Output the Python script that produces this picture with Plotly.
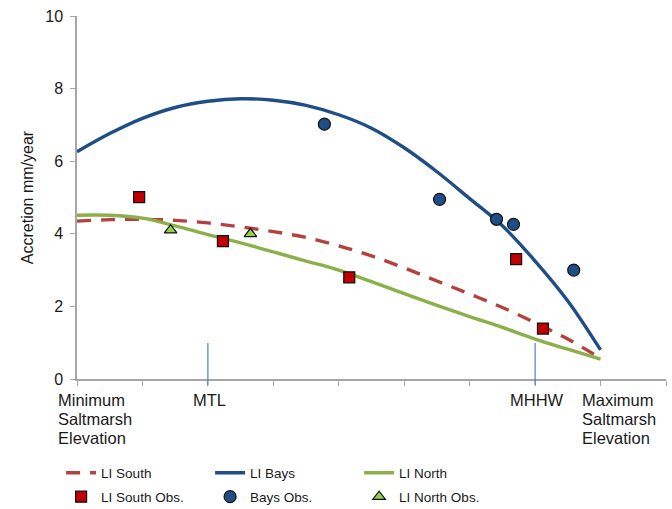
import plotly.graph_objects as go

# ---- data ----
curve_x = [0, 0.5, 1, 1.5, 2, 2.5, 3, 3.5, 4, 4.5, 5, 5.5, 6, 6.5, 7, 7.5, 8]
li_south = [4.35, 4.39, 4.40, 4.37, 4.30, 4.19, 4.06, 3.90, 3.67, 3.39, 3.06, 2.70, 2.34, 1.97, 1.55, 1.10, 0.57]
li_bays = [6.26, 6.76, 7.18, 7.48, 7.65, 7.72, 7.68, 7.54, 7.28, 6.91, 6.37, 5.71, 4.97, 4.22, 3.25, 2.15, 0.80]
li_north = [4.51, 4.51, 4.43, 4.22, 3.98, 3.75, 3.50, 3.25, 3.00, 2.68, 2.35, 2.03, 1.72, 1.42, 1.10, 0.82, 0.55]

south_obs_x = [0.95, 2.23, 4.16, 6.71, 7.12]
south_obs_y = [5.01, 3.80, 2.80, 3.30, 1.39]
bays_obs_x = [3.78, 5.54, 6.41, 6.67, 7.59]
bays_obs_y = [7.02, 4.95, 4.40, 4.26, 3.00]
north_obs_x = [1.43, 2.65]
north_obs_y = [4.10, 4.00]

ref_labels = ["MTL", "MHHW"]
ref_x = [2.0, 7.0]
end_labels = ["Minimum<br>Saltmarsh<br>Elevation", "Maximum<br>Saltmarsh<br>Elevation"]
end_x = [0, 8]

FONT = "Liberation Sans, Arial, sans-serif"
TXT = "#1a1a1a"

fig = go.Figure()
fig.add_trace(go.Scatter(x=curve_x, y=li_south, mode="lines", name="LI South", legend="legend",
                         line=dict(color="#B5413F", width=3.4, dash="14px,10px", shape="spline")))
fig.add_trace(go.Scatter(x=curve_x, y=li_bays, mode="lines", name="LI Bays", legend="legend",
                         line=dict(color="#1F4E86", width=3.4, shape="spline")))
fig.add_trace(go.Scatter(x=curve_x, y=li_north, mode="lines", name="LI North", legend="legend",
                         line=dict(color="#8BB04A", width=3.4, shape="spline")))
fig.add_trace(go.Scatter(x=south_obs_x, y=south_obs_y, mode="markers", name="LI South Obs.",
                         legend="legend2",
                         marker=dict(symbol="square", size=11, color="#C00000",
                                     line=dict(color="#111111", width=1.2))))
fig.add_trace(go.Scatter(x=bays_obs_x, y=bays_obs_y, mode="markers", name="Bays Obs.",
                         legend="legend2",
                         marker=dict(symbol="circle", size=12, color="#1F4E86",
                                     line=dict(color="#111111", width=1.2))))
fig.add_trace(go.Scatter(x=north_obs_x, y=north_obs_y, mode="markers", name="LI North Obs.",
                         legend="legend2",
                         marker=dict(symbol="triangle-up", size=11, color="#92D050",
                                     line=dict(color="#111111", width=1.2))))

LABEL_SIZE = 16.5
for lab, xv in zip(ref_labels, ref_x):
    fig.add_shape(type="line", xref="x", yref="paper", x0=xv, x1=xv, y0=-0.017, y1=0.099,
                  line=dict(color="#4A7FD0", width=1.2))
    fig.add_annotation(x=xv, xref="x", y=0, yref="paper", text=lab, showarrow=False,
                       yanchor="middle", yshift=-21, xanchor="center", xshift=2,
                       font=dict(family=FONT, size=LABEL_SIZE, color=TXT))
for lab, xv in zip(end_labels, end_x):
    for i, part in enumerate(lab.split("<br>")):
        fig.add_annotation(x=xv, xref="x", y=0, yref="paper", text=part, showarrow=False,
                           yanchor="middle", yshift=-21 - 19 * i, xanchor="left", xshift=-21,
                           align="left", font=dict(family=FONT, size=LABEL_SIZE, color=TXT))

leg_common = dict(orientation="h", xanchor="left", yanchor="middle",
                  entrywidth=104, entrywidthmode="pixels", traceorder="normal",
                  font=dict(family=FONT, size=13.5, color=TXT),
                  bgcolor="rgba(0,0,0,0)")
fig.update_layout(
    width=672, height=509,
    margin=dict(l=77, r=6, t=16, b=130, autoexpand=False),
    paper_bgcolor="white", plot_bgcolor="white",
    font=dict(family=FONT, size=14, color=TXT),
    showlegend=True,
    legend=dict(x=-0.027, y=-0.2587, **leg_common),
    legend2=dict(x=-0.027, y=-0.3248, **leg_common),
)
fig.update_xaxes(range=[0, 9], tickmode="linear", tick0=0, dtick=1, showticklabels=False,
                 ticks="outside", ticklen=5, tickcolor="#A6A6A6", tickwidth=1,
                 showline=True, linecolor="#A6A6A6", linewidth=1.5, showgrid=False, zeroline=False)
fig.update_yaxes(range=[0, 10], tickmode="linear", tick0=0, dtick=2,
                 ticks="outside", ticklen=5, tickcolor="#A6A6A6", tickwidth=1,
                 showline=True, linecolor="#A6A6A6", linewidth=1.5, showgrid=False, zeroline=False,
                 ticklabelstandoff=4,
                 tickfont=dict(family=FONT, size=16, color=TXT),
                 title=dict(text="Accretion mm/year", standoff=8,
                            font=dict(family=FONT, size=16, color=TXT)))

fig.write_html("out.html")
